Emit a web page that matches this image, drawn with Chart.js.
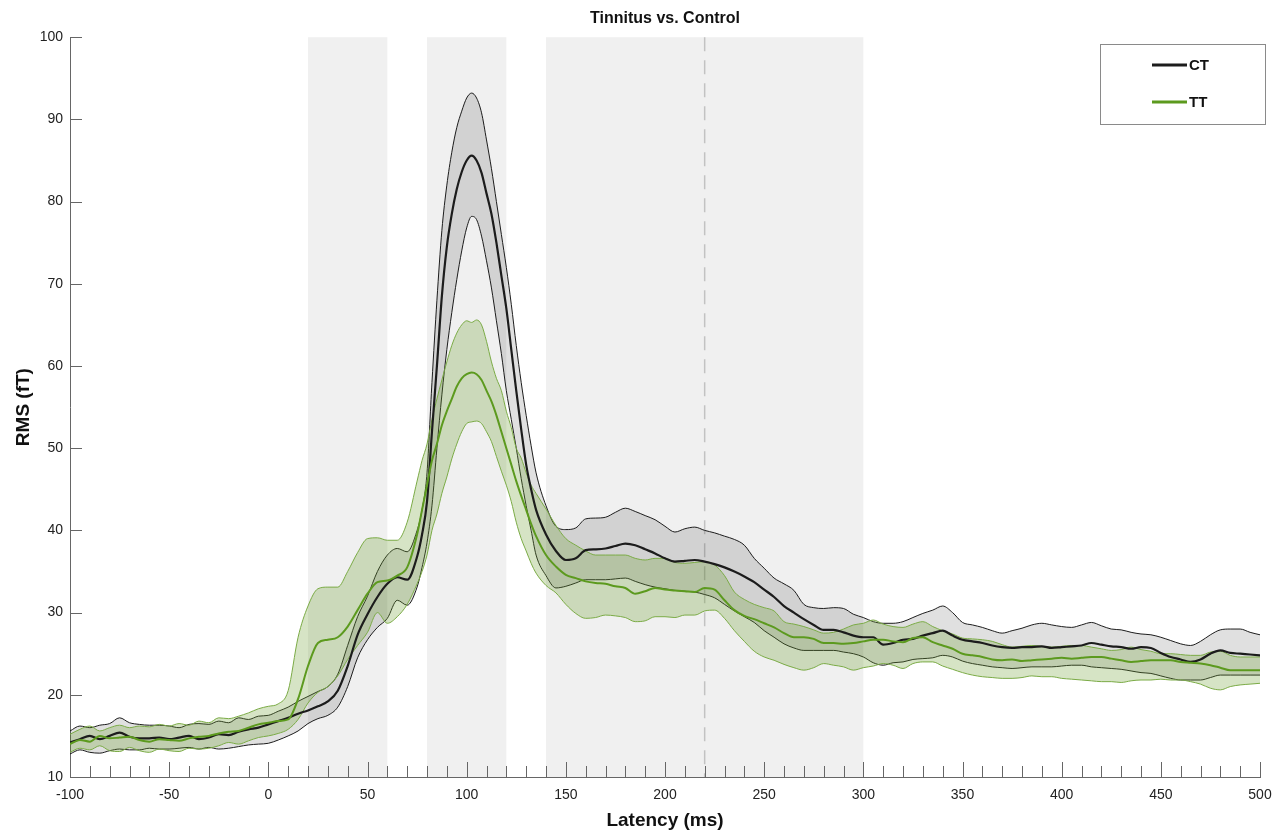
<!DOCTYPE html>
<html>
<head>
<meta charset="utf-8">
<title>Tinnitus vs. Control</title>
<script src="https://cdn.jsdelivr.net/npm/chart.js@4.4.1/dist/chart.umd.min.js"></script>
<style>
  html, body { margin: 0; padding: 0; background: #fff; }
  canvas { display: block; }
</style>
</head>
<body>
<canvas id="rmsChart" width="1282" height="834"></canvas>
<script>
// latency grid (ms), denser around the N1 peak
const latency = [
  -100, -95, -90, -85, -80, -75, -70, -65, -60, -55,
  -50, -45, -40, -35, -30, -25, -20, -15, -10, -5,
  0, 5, 10, 15, 20, 25, 30, 35, 40, 45,
  50, 55, 60, 65, 70,
  75, 77.5, 80, 82.5, 85, 87.5, 90, 92.5, 95, 97.5,
  100, 102.5, 105, 107.5, 110, 112.5, 115, 117.5, 120, 122.5,
  125, 127.5, 130, 132.5, 135,
  140, 145,
  150, 155, 160, 165, 170, 175, 180, 185, 190, 195,
  200, 205, 210, 215, 220, 225, 230, 235, 240, 245,
  250, 255, 260, 265, 270, 275, 280, 285, 290, 295,
  300, 305, 310, 315, 320, 325, 330, 335, 340, 345,
  350, 355, 360, 365, 370, 375, 380, 385, 390, 395,
  400, 405, 410, 415, 420, 425, 430, 435, 440, 445,
  450, 455, 460, 465, 470, 475, 480, 485, 490, 495,
  500
];

// control group (CT)
const ctMean = [
  14.2, 14.6, 15.0, 14.6, 15.0, 15.4, 14.9, 14.7, 14.7, 14.8,
  14.6, 14.8, 15.0, 14.6, 14.8, 15.2, 15.1, 15.5, 15.8, 16.0,
  16.4, 16.8, 17.2, 17.7, 18.1, 18.6, 19.2, 20.5, 23.5, 27.3,
  29.8, 31.9, 33.5, 34.3, 34.0,
  36.8, 39.5, 43.5, 52.0, 60.0, 68.5, 74.5, 78.5, 81.5, 83.6,
  85.0, 85.6, 85.0, 83.5, 81.0, 78.5, 75.0, 71.0, 67.0, 62.0,
  57.0, 52.3, 48.0, 45.0, 42.5,
  39.5, 37.5,
  36.4, 36.6, 37.6, 37.7, 37.8, 38.1, 38.4, 38.2, 37.7, 37.2,
  36.6, 36.2, 36.3, 36.4, 36.2, 35.9, 35.5, 35.0, 34.4, 33.7,
  32.8, 31.9, 30.8, 30.0, 29.2, 28.5, 27.9, 27.9, 27.6, 27.2,
  27.0, 27.0, 26.1, 26.3, 26.7, 26.8, 27.2, 27.5, 27.8, 27.2,
  26.7, 26.5, 26.3, 26.0, 25.8, 25.7, 25.8, 25.8, 25.9, 25.7,
  25.8, 25.9, 26.0, 26.3, 26.1, 25.9, 25.8, 25.6, 25.8, 25.7,
  25.1, 24.6, 24.3, 24.0, 24.3, 25.0, 25.4, 25.1, 25.0, 24.9,
  24.8
];
const ctUpper = [
  15.6, 16.2, 16.0, 16.3, 16.5, 17.2, 16.6, 16.4, 16.3, 16.3,
  16.2, 16.0, 16.4, 16.5, 16.4, 16.8, 16.6, 17.2, 17.0, 17.4,
  17.5, 18.0, 18.5, 19.2, 19.8, 20.4, 21.0, 22.5, 26.0, 29.5,
  32.0, 35.0, 37.0, 37.8, 37.4,
  40.0, 42.5, 47.0, 58.0, 68.0, 76.5, 82.0, 86.0, 89.0, 91.0,
  92.6, 93.2, 92.6, 90.8, 87.5, 84.0, 80.0, 76.0, 72.0, 67.5,
  62.5, 58.0, 54.0, 50.3, 47.0,
  43.0, 40.5,
  40.1, 40.3, 41.4, 41.5, 41.6, 42.2, 42.7, 42.3, 41.8, 41.3,
  40.5, 39.8, 40.2, 40.4, 40.0, 39.7, 39.3, 38.9, 38.2, 36.6,
  35.4, 34.2, 33.5, 32.7, 31.0, 30.6, 30.5, 30.6, 30.5, 29.8,
  29.4, 28.9, 28.7, 28.7, 28.9, 29.4, 29.9, 30.3, 30.8, 30.0,
  28.8, 28.5, 28.2, 27.8, 27.5, 27.8, 28.1, 28.5, 28.7, 28.5,
  28.3, 28.2, 28.5, 28.8, 28.4, 28.0, 27.9, 27.6, 27.4, 27.3,
  27.0, 26.6, 26.2, 26.0, 26.5, 27.3, 27.9, 28.0, 28.0, 27.6,
  27.3
];
const ctLower = [
  12.8, 13.3, 13.0, 12.9, 13.2, 13.4, 13.3, 13.3, 13.5, 13.4,
  13.4, 13.5, 13.6, 13.4, 13.6, 13.4, 13.5, 13.7, 13.9, 14.0,
  14.1, 14.5, 15.0, 15.6, 16.5, 17.1, 17.5, 18.5, 21.0, 24.5,
  26.7, 28.2, 29.3, 31.5, 30.9,
  33.1, 35.5, 38.5, 43.0, 50.0, 56.5, 62.0, 66.5, 70.5, 74.0,
  76.8, 78.2, 77.8, 75.8, 72.8, 69.5, 65.5, 61.5, 57.0, 53.5,
  50.0, 46.3, 43.0, 40.0, 37.0,
  34.5, 33.0,
  33.2, 33.6, 34.0, 34.0, 34.0, 34.1, 34.2, 33.8, 33.4, 33.1,
  32.9, 32.7, 32.6, 32.5, 32.2, 31.8, 31.0, 30.2, 29.5, 28.8,
  27.8, 27.0, 26.2, 25.7, 25.4, 25.4, 25.4, 25.4, 25.2, 25.0,
  24.6, 23.9, 23.6, 23.9, 24.0, 24.3, 24.4, 24.5, 24.8, 24.6,
  24.1, 23.8, 23.6, 23.4, 23.3, 23.2, 23.3, 23.4, 23.4, 23.4,
  23.5, 23.6, 23.6, 23.4, 23.3, 23.2, 23.1, 22.9, 22.7, 22.6,
  22.3, 22.0, 21.8, 21.8, 21.8, 22.1, 22.4, 22.4, 22.4, 22.4,
  22.4
];

// tinnitus group (TT)
const ttMean = [
  14.0, 14.5, 14.3, 15.0, 14.7, 14.8, 14.9, 14.5, 14.3, 14.6,
  14.5, 14.4, 14.7, 14.9, 15.0, 15.3, 15.5, 15.6, 16.0, 16.4,
  16.6, 16.8, 17.0, 19.5, 23.5, 26.3, 26.7, 27.0, 28.3, 30.3,
  32.3, 33.7, 33.9, 34.5, 35.5,
  39.5, 42.5, 45.5, 48.5, 50.5, 52.8, 54.5, 56.0, 57.5, 58.5,
  59.0, 59.2, 59.0, 58.3, 57.0, 55.7, 54.0, 52.0, 50.0, 48.0,
  46.0, 44.2, 42.5, 40.8, 39.3,
  37.0, 35.6,
  34.6, 34.2, 33.8, 33.6, 33.5, 33.2, 33.0, 32.3, 32.6, 33.0,
  32.8, 32.7, 32.6, 32.5, 33.0, 32.8, 31.5, 30.3, 29.6, 29.2,
  28.7, 28.2, 27.5, 27.0, 27.0, 26.8, 26.3, 26.3, 26.2, 26.3,
  26.5, 26.7, 26.7, 26.5, 26.4, 26.9, 27.0, 26.4, 26.0, 25.6,
  25.0, 24.8, 24.6, 24.3, 24.2, 24.3, 24.1, 24.2, 24.3, 24.4,
  24.5, 24.4, 24.5, 24.6, 24.6, 24.4, 24.2, 24.0, 24.1, 24.2,
  24.2, 24.2, 24.0, 23.9, 23.8, 23.6, 23.3, 23.0, 23.0, 23.0,
  23.0
];
const ttUpper = [
  15.2, 15.8, 16.2, 15.6, 16.0, 16.3, 16.0, 16.2, 16.1, 16.4,
  16.2, 16.5, 16.3, 16.8, 16.6, 17.2, 17.1, 17.4, 17.8, 18.3,
  18.6, 18.9, 20.5, 27.0, 30.8, 32.9, 33.1, 33.1, 35.0, 37.3,
  39.0, 39.1, 38.8, 38.8, 41.0,
  46.0, 48.5, 50.5, 53.5, 56.0, 58.3, 60.5, 62.5, 64.0, 65.0,
  65.5, 65.3, 65.6, 65.0, 63.0, 60.5, 58.5, 57.0, 54.5, 52.5,
  50.0, 48.8, 47.0, 45.5, 44.5,
  42.6, 40.6,
  39.0, 38.2, 37.5, 37.0, 37.0, 37.0, 37.0, 36.6, 36.4, 36.6,
  36.6, 36.1, 36.0, 36.1, 36.2, 35.8, 34.5, 32.5, 31.6, 31.0,
  30.6, 30.2, 28.9, 28.6, 28.3, 27.9, 27.5, 27.6, 28.0, 28.5,
  28.7, 29.1, 28.6, 28.3, 28.2, 28.6, 28.9, 28.3, 27.8, 27.4,
  26.9, 26.8, 26.7, 26.5, 26.1, 25.8, 25.9, 26.0, 25.9, 25.8,
  25.9, 26.0, 26.0, 25.8, 25.6, 25.4, 25.5, 25.8, 25.5, 25.3,
  25.0, 25.0, 24.9, 24.8, 24.8, 25.2, 25.3, 24.8, 24.6, 24.6,
  24.6
];
const ttLower = [
  13.0, 13.5, 13.3, 13.8, 13.2, 13.1, 13.6, 13.2, 13.0, 13.4,
  13.2, 13.1, 13.5, 13.4, 13.5, 13.8, 14.2, 14.0, 14.4, 14.8,
  15.0, 15.3, 15.8, 17.0, 19.0, 20.3, 21.0, 22.3, 24.3, 26.0,
  27.6, 30.0, 28.7, 29.5, 31.0,
  33.5, 35.0, 37.0, 40.0, 42.0, 44.5, 46.5, 48.7, 50.5, 52.0,
  53.0, 53.2, 53.3, 53.0, 52.0, 50.8, 49.0, 47.2, 45.5, 43.5,
  41.0, 39.0, 37.5, 36.0, 34.8,
  33.3, 32.4,
  31.0, 29.9, 29.3, 29.4, 29.7, 29.6, 29.4, 28.9, 29.0, 29.5,
  29.5, 29.4, 29.7, 29.7, 30.2, 30.3, 29.3, 27.8, 26.5, 25.3,
  24.6, 24.2, 23.7, 23.3, 23.0, 23.3, 23.8, 23.6, 23.4, 23.0,
  23.3, 23.5, 23.8, 23.6, 23.2, 23.8, 24.0, 24.0, 23.5, 23.1,
  22.7, 22.4, 22.2, 22.1, 22.0, 22.0, 22.1, 22.3, 22.2, 22.2,
  22.0, 21.9, 21.8, 21.7, 21.6, 21.6, 21.5, 21.7, 21.8, 21.8,
  21.9, 21.8, 21.8, 21.6, 21.3, 20.8, 20.6, 21.0, 21.2, 21.3,
  21.4
];

// analysis windows (ms) and marker
const windows = [[20, 60], [80, 120], [140, 300]];
const markerMs = 220;

const FONT = "'Liberation Sans', Arial, Helvetica, sans-serif";
const pts = arr => latency.map((x, i) => ({ x: x, y: arr[i] }));

const backdrop = {
  id: "backdrop",
  beforeDraw(chart) {
    const { ctx, chartArea: a, scales: { x } } = chart;
    ctx.save();
    ctx.fillStyle = "#f0f0f0";
    windows.forEach(w => {
      const x0 = x.getPixelForValue(w[0]);
      const x1 = x.getPixelForValue(w[1]);
      ctx.fillRect(x0, a.top, x1 - x0, a.bottom - a.top);
    });
    const xm = x.getPixelForValue(markerMs);
    ctx.strokeStyle = "#c2c2c2";
    ctx.lineWidth = 1.5;
    ctx.setLineDash([14, 9]);
    ctx.beginPath();
    ctx.moveTo(xm, a.top);
    ctx.lineTo(xm, a.bottom);
    ctx.stroke();
    ctx.restore();
  }
};

const axisTicks = {
  id: "axisTicks",
  afterDraw(chart) {
    const { ctx, chartArea: a, scales: { x, y } } = chart;
    ctx.save();
    ctx.strokeStyle = "#666";
    ctx.lineWidth = 1;
    ctx.beginPath();
    for (let v = x.min; v <= x.max; v += 10) {
      const px = Math.round(x.getPixelForValue(v)) + 0.5;
      const len = v % 50 === 0 ? 15 : 11;
      ctx.moveTo(px, a.bottom);
      ctx.lineTo(px, a.bottom - len);
    }
    y.ticks.forEach(t => {
      const py = Math.round(y.getPixelForValue(t.value)) + 0.5;
      ctx.moveTo(a.left, py);
      ctx.lineTo(a.left + 12, py);
    });
    ctx.stroke();

    // legend box
    const bx = 1100, by = 44, bw = 165, bh = 80;
    ctx.fillStyle = "#fff";
    ctx.fillRect(bx, by, bw, bh);
    ctx.strokeStyle = "#8a8a8a";
    ctx.strokeRect(bx + 0.5, by + 0.5, bw, bh);
    const items = chart.data.datasets.filter(d => d.inLegend);
    items.forEach((d, i) => {
      const ly = by + 21 + i * 37;
      ctx.strokeStyle = d.borderColor;
      ctx.lineWidth = 3;
      ctx.beginPath();
      ctx.moveTo(bx + 52, ly);
      ctx.lineTo(bx + 87, ly);
      ctx.stroke();
      ctx.fillStyle = "#111";
      ctx.font = "bold 15px " + FONT;
      ctx.textBaseline = "middle";
      ctx.fillText(d.label, bx + 89, ly + 1);
    });
    ctx.restore();
  }
};

const ctLine = "#1c1c1c";
const ttLine = "#5c9a1e";
const ttEdge = "#7bab46";

const config = {
  type: "line",
  data: {
    datasets: [
      { label: "CT upper", data: pts(ctUpper), borderColor: ctLine, borderWidth: 1,
        backgroundColor: "rgba(0,0,0,0.12)", fill: 1, order: 6 },
      { label: "CT lower", data: pts(ctLower), borderColor: ctLine, borderWidth: 1,
        fill: false, order: 5 },
      { label: "TT upper", data: pts(ttUpper), borderColor: ttEdge, borderWidth: 1,
        backgroundColor: "rgba(106,158,48,0.28)", fill: 3, order: 4 },
      { label: "TT lower", data: pts(ttLower), borderColor: ttEdge, borderWidth: 1,
        fill: false, order: 3 },
      { label: "CT", data: pts(ctMean), borderColor: ctLine, borderWidth: 2.2,
        fill: false, order: 2, inLegend: true },
      { label: "TT", data: pts(ttMean), borderColor: ttLine, borderWidth: 2,
        fill: false, order: 1, inLegend: true }
    ]
  },
  options: {
    responsive: false,
    animation: false,
    devicePixelRatio: 1,
    layout: { padding: { left: 0, right: 22, top: 0, bottom: 0 } },
    elements: {
      point: { radius: 0 },
      line: { cubicInterpolationMode: "monotone" }
    },
    plugins: {
      legend: { display: false },
      tooltip: { enabled: false },
      title: {
        display: true,
        text: "Tinnitus vs. Control",
        fullSize: false,
        color: "#111",
        font: { family: FONT, size: 16, weight: "bold" },
        padding: { top: 9, bottom: 9 }
      }
    },
    scales: {
      x: {
        type: "linear",
        min: -100,
        max: 500,
        ticks: { stepSize: 50, color: "#222", padding: 10, maxRotation: 0,
                 font: { family: FONT, size: 14 } },
        grid: { display: false, drawTicks: false },
        border: { display: true, color: "#666", width: 1 },
        title: { display: true, text: "Latency (ms)", color: "#111",
                 font: { family: FONT, size: 19, weight: "bold" }, padding: { top: 0, bottom: 2 } },
        afterFit: s => { s.height = 57; }
      },
      y: {
        min: 10,
        max: 100,
        ticks: { stepSize: 10, color: "#222", padding: 7,
                 font: { family: FONT, size: 14 } },
        grid: { display: false, drawTicks: false },
        border: { display: true, color: "#666", width: 1 },
        title: { display: true, text: "RMS (fT)", color: "#111",
                 font: { family: FONT, size: 19, weight: "bold" }, padding: { top: 12, bottom: 0 } },
        afterFit: s => { s.width = 70; }
      }
    }
  },
  plugins: [backdrop, axisTicks]
};

const rmsChart = new Chart(document.getElementById("rmsChart"), config);
</script>
</body>
</html>
